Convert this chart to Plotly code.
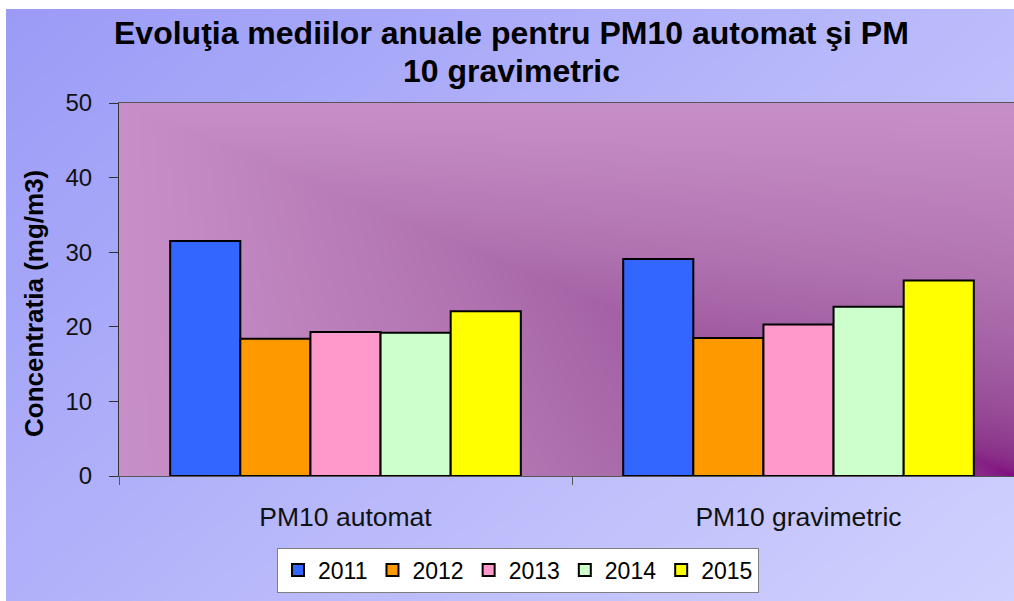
import numpy as np
import zlib, struct, base64
import plotly.graph_objects as go

# ---------------- data ----------------
categories = ["PM10 automat", "PM10 gravimetric"]
years = ["2011", "2012", "2013", "2014", "2015"]
v2011 = [31.5, 29.1]
v2012 = [18.4, 18.5]
v2013 = [19.3, 20.3]
v2014 = [19.2, 22.7]
v2015 = [22.1, 26.2]
series = [v2011, v2012, v2013, v2014, v2015]
colors = ["#3366FF", "#FF9900", "#FF99CC", "#CCFFCC", "#FFFF00"]
y_ticks = [0, 10, 20, 30, 40, 50]

# ---------------- layout geometry (page margin removed below) ----------------
W, H = 1014, 601
L, R, T = 119, 0, 103
B = H - 476
PW, PH = W - L - R, H - T - B
UNIT = 453.0  # pixels per category
BORDER_L, BORDER_T = 6, 9  # white frame of the original picture


def px_x(sx):
    return (sx - L) / PW


def px_y(sy):
    return (H - B - sy) / PH


def png_uri(arr):
    h, w, _ = arr.shape
    raw = b"".join(b"\x00" + arr[r].tobytes() for r in range(h))

    def chunk(t, d):
        c = struct.pack(">I", len(d)) + t + d
        return c + struct.pack(">I", zlib.crc32(t + d) & 0xFFFFFFFF)

    png = (b"\x89PNG\r\n\x1a\n"
           + chunk(b"IHDR", struct.pack(">IIBBBBB", w, h, 8, 2, 0, 0, 0))
           + chunk(b"IDAT", zlib.compress(raw, 9))
           + chunk(b"IEND", b""))
    return "data:image/png;base64," + base64.b64encode(png).decode()


def to_lin(c):
    c = np.asarray(c, float) / 255.0
    return np.where(c <= 0.04045, c / 12.92, ((c + 0.055) / 1.055) ** 2.4)


def to_srgb(c):
    c = np.clip(c, 0, 1)
    s = np.where(c <= 0.0031308, c * 12.92, 1.055 * c ** (1 / 2.4) - 0.055)
    return np.clip(np.round(s * 255), 0, 255).astype(np.uint8)


# plot-area gradient (dark purple toward bottom-right corner)
gw, gh = 448, 187
ii = (np.arange(gw) + 0.5) / gw
jj = (np.arange(gh) + 0.5) / gh
U, V = np.meshgrid(1 - ii, 1 - jj)
mx = np.maximum(U, V)
mn = np.minimum(U, V)
t = np.clip(mx - 0.48 * mn * (1 - mx), 0, 1) ** 0.75
dark = to_lin([128, 0, 128])
light = to_lin([199, 143, 199])
lin = dark[None, None, :] + (light - dark)[None, None, :] * t[..., None]
plot_img = png_uri(to_srgb(lin))

# outer background gradient (blue-lavender diagonal)
ow, oh = 252, 148
xx = (np.arange(ow) + 0.5) / ow
yy = (np.arange(oh) + 0.5) / oh
X, Y = np.meshgrid(xx, yy)
tt = 0.6 * X + 0.4 * Y
c0 = np.array([155, 155, 247], float)
c1 = np.array([209, 209, 254], float)
outer = c0[None, None, :] + (c1 - c0)[None, None, :] * tt[..., None]
outer_img = png_uri(np.clip(np.round(outer), 0, 255).astype(np.uint8))

fig = go.Figure()
for yr, vals, col in zip(years, series, colors):
    fig.add_trace(go.Bar(
        x=categories, y=vals, name=yr,
        marker=dict(color=col, line=dict(color="black", width=2)),
    ))

font_family = "Liberation Sans, Arial, sans-serif"

fig.update_layout(
    width=W, height=H,
    margin=dict(l=L, r=R, t=T, b=B, pad=0, autoexpand=False),
    paper_bgcolor="white",
    plot_bgcolor="rgba(0,0,0,0)",
    barmode="group",
    bargap=0.226,
    bargroupgap=0,
    font=dict(family=font_family, color="black"),
    showlegend=True,
    legend=dict(
        orientation="h",
        x=px_x(518), y=px_y(570), xanchor="center", yanchor="middle",
        bgcolor="white", bordercolor="#7f7f7f", borderwidth=1,
        font=dict(size=23, family=font_family, color="black"),
        traceorder="normal",
    ),
    xaxis=dict(
        type="category",
        range=[-0.5, -0.5 + PW / UNIT],
        automargin=False,
        showline=True, linecolor="#555555", linewidth=1, mirror=True,
        ticks="outside", ticklen=8, tickcolor="#555555",
        tickson="boundaries",
        showgrid=False, zeroline=False,
        tickfont=dict(size=26.5, family=font_family, color="#111111"),
        ticklabelstandoff=17,
    ),
    yaxis=dict(
        range=[0, 50], tickvals=y_ticks,
        automargin=False,
        showline=True, linecolor="#333333", linewidth=1,
        ticks="outside", ticklen=9, tickcolor="#333333",
        showgrid=False, zeroline=False,
        tickfont=dict(size=24, family=font_family, color="#111111"),
        ticklabelstandoff=12,
    ),
    images=[
        dict(source=outer_img, xref="paper", yref="paper",
             x=px_x(BORDER_L), y=px_y(BORDER_T),
             sizex=(W - BORDER_L) / PW, sizey=(H - BORDER_T) / PH,
             xanchor="left", yanchor="top", sizing="stretch", layer="below"),
        dict(source=plot_img, xref="paper", yref="paper",
             x=0, y=1, sizex=1, sizey=1,
             xanchor="left", yanchor="top", sizing="stretch", layer="below"),
    ],
    annotations=[
        dict(text="<b>Evoluţia mediilor anuale pentru PM10 automat şi PM</b>",
             xref="paper", yref="paper", x=px_x(511), y=px_y(33),
             xanchor="center", yanchor="middle", showarrow=False,
             font=dict(size=32, family=font_family, color="black")),
        dict(text="<b>10 gravimetric</b>",
             xref="paper", yref="paper", x=px_x(511), y=px_y(71),
             xanchor="center", yanchor="middle", showarrow=False,
             font=dict(size=32, family=font_family, color="black")),
        dict(text="<b>Concentratia (mg/m3)</b>",
             xref="paper", yref="paper", x=px_x(34), y=px_y(304),
             xanchor="center", yanchor="middle", showarrow=False, textangle=-90,
             font=dict(size=26, family=font_family, color="black")),
    ],
)

fig.write_html(
    "out.html",
    config={"displayModeBar": False},
    post_script="document.body.style.margin='0';"
                "document.documentElement.style.overflow='hidden';",
)
